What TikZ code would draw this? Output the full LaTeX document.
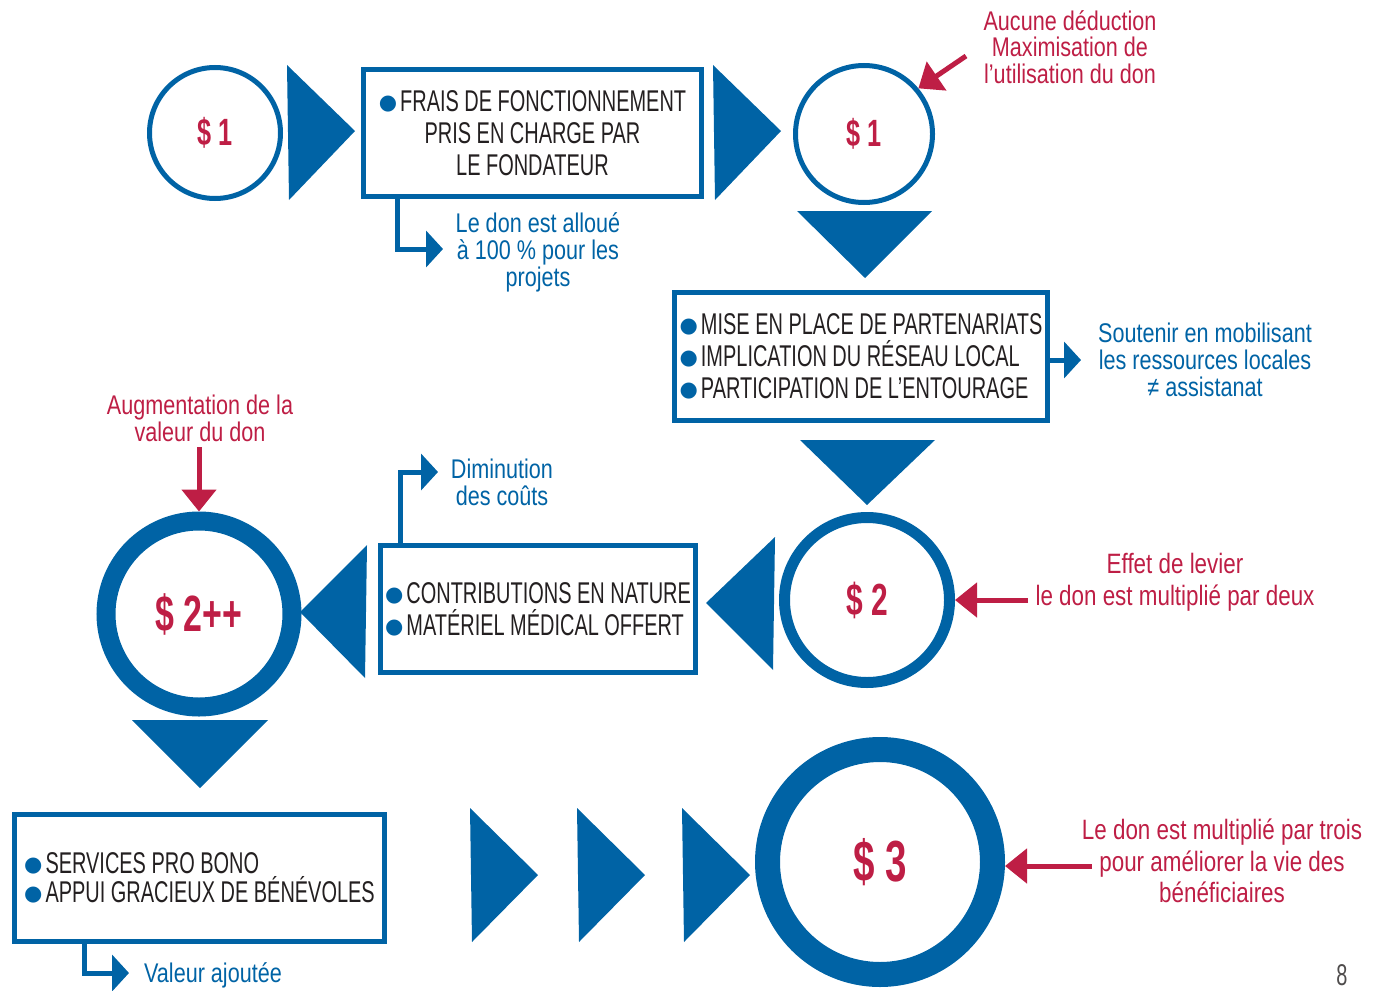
\documentclass[tikz,border=0pt]{standalone}
\usepackage{fontspec}
\setmainfont{Liberation Sans}[FakeStretch=0.665]
\newfontfamily\lettre{Liberation Sans}[FakeStretch=0.8]
\newfontfamily\symfont{DejaVu Sans}
\usetikzlibrary{arrows.meta}
\definecolor{donblue}{RGB}{0,99,165}
\definecolor{donred}{RGB}{190,30,69}
\definecolor{dontext}{RGB}{35,31,32}
\newcommand{\puce}{\raisebox{2pt}{\symfont\fontsize{21}{21}\selectfont\color{donblue}●}\hspace{3pt}}

\begin{document}
\begin{tikzpicture}[x=1pt, y=-1pt,
	every node/.style={text=dontext, font=\fontsize{30}{32}\selectfont},
	boite/.style={draw=donblue, line width=5pt, inner sep=0pt},
	rond/.style={draw=donblue, circle, inner sep=0pt, text=donred},
	note/.style={text=donred, align=center},
	info/.style={text=donblue, align=center, font=\lettre\fontsize{27}{27}\selectfont},
	rouge/.style={donred, line width=5pt, -{Triangle[length=22pt, width=34pt]}},
	bleue/.style={donblue, line width=5pt, -{Triangle[length=17pt, width=36pt]}}]
	\useasboundingbox (0,0) rectangle (1375,990);

	\node[rond, line width=5pt, minimum size=131pt, font=\fontsize{38}{38}\selectfont\bfseries] (d1) at (215,133) {\$ 1};
	\node[boite, minimum width=338pt, minimum height=127pt, align=center] (frais) at (532.5,133)
		{\puce FRAIS DE FONCTIONNEMENT\\PRIS EN CHARGE PAR\\LE FONDATEUR};
	\node[rond, line width=5pt, minimum size=137pt, font=\fontsize{38}{38}\selectfont\bfseries] (d2) at (864,134) {\$ 1};
	\node[boite, minimum width=373pt, minimum height=128pt, align=left] (reseau) at (861,356.5)
		{\puce MISE EN PLACE DE PARTENARIATS\\\puce IMPLICATION DU RÉSEAU LOCAL\\\puce PARTICIPATION DE L’ENTOURAGE};
	\node[rond, line width=11pt, minimum size=165pt, font=\fontsize{45}{45}\selectfont\bfseries] (d3) at (867,600) {\$ 2};
	\node[boite, minimum width=315pt, minimum height=127pt, align=left] (nature) at (538,609)
		{\puce CONTRIBUTIONS EN NATURE\\\puce MATÉRIEL MÉDICAL OFFERT};
	\node[rond, line width=19pt, minimum size=186pt, font=\fontsize{51}{51}\selectfont\bfseries] (d4) at (199,614) {\$ 2++};
	\node[boite, minimum width=370pt, minimum height=127pt, align=left] (benevoles) at (199.5,878)
		{\puce SERVICES PRO BONO\\[-3pt]\puce APPUI GRACIEUX DE BÉNÉVOLES};
	\node[rond, line width=25pt, minimum size=225pt, font=\fontsize{58}{58}\selectfont\bfseries] (d5) at (880,862) {\$ 3};

	\fill[donblue] (287,65) -- (355,131) -- (289,200) -- cycle;
	\fill[donblue] (713,65) -- (781,131) -- (715,200) -- cycle;
	\fill[donblue] (797,211) -- (932,211) -- (865,278) -- cycle;
	\fill[donblue] (800,440) -- (935,440) -- (867,505) -- cycle;
	\fill[donblue] (775,537) -- (706,603) -- (773,670) -- cycle;
	\fill[donblue] (367,545) -- (300,612) -- (365,678) -- cycle;
	\fill[donblue] (132,720) -- (268,720) -- (200,788) -- cycle;
	\foreach \x in {470,577,682}
		\fill[donblue] (\x,808) -- (\x+68,875) -- (\x+2,942) -- cycle;

	\node[note, font=\lettre\fontsize{27}{26.5}\selectfont] (aucune) at (1070,47) {Aucune déduction\\Maximisation de\\l’utilisation du don};
	\node[note, font=\lettre\fontsize{27}{27}\selectfont] (augm) at (200,418) {Augmentation de la\\valeur du don};
	\node[note, font=\lettre\fontsize{28}{32}\selectfont] (levier) at (1175,582) {Effet de levier\\le don est multiplié par deux};
	\node[note, font=\lettre\fontsize{28}{31.5}\selectfont] (trois) at (1222,861) {Le don est multiplié par trois\\pour améliorer la vie des\\bénéficiaires};

	\node[info] (alloue) at (538,252) {Le don est alloué\\à 100 \% pour les\\projets};
	\node[info] (soutenir) at (1205,360) {Soutenir en mobilisant\\les ressources locales\\≠ assistanat};
	\node[info] (couts) at (502,482) {Diminution\\des coûts};
	\node[info] (ajoutee) at (213,975) {Valeur ajoutée};
	\node[text=dontext!80] (page) at (1342,975) {8};

	\coordinate (a1) at (966,56);
	\coordinate (a2) at (199,447);
	\coordinate (a3) at (1028,600);
	\coordinate (a4) at (1092,866);
	\draw[rouge] (a1) -- (d2.40);
	\draw[rouge] (a2) -- (d4.north);
	\draw[rouge] (a3) -- (d3.east);
	\draw[rouge] (a4) -- (a4 -| d5.east);

	\coordinate (b1) at (443,249);
	\coordinate (b2) at (438,472);
	\coordinate (b3) at (1081,360);
	\coordinate (b4) at (129,973);
	\draw[bleue] ([xshift=-135pt]frais.south) |- (b1);
	\draw[bleue] ([xshift=-138pt]nature.north) |- (b2);
	\draw[bleue] (reseau.east |- b3) -- (b3);
	\draw[bleue] ([xshift=-115pt]benevoles.south) |- (b4);
\end{tikzpicture}
\end{document}
